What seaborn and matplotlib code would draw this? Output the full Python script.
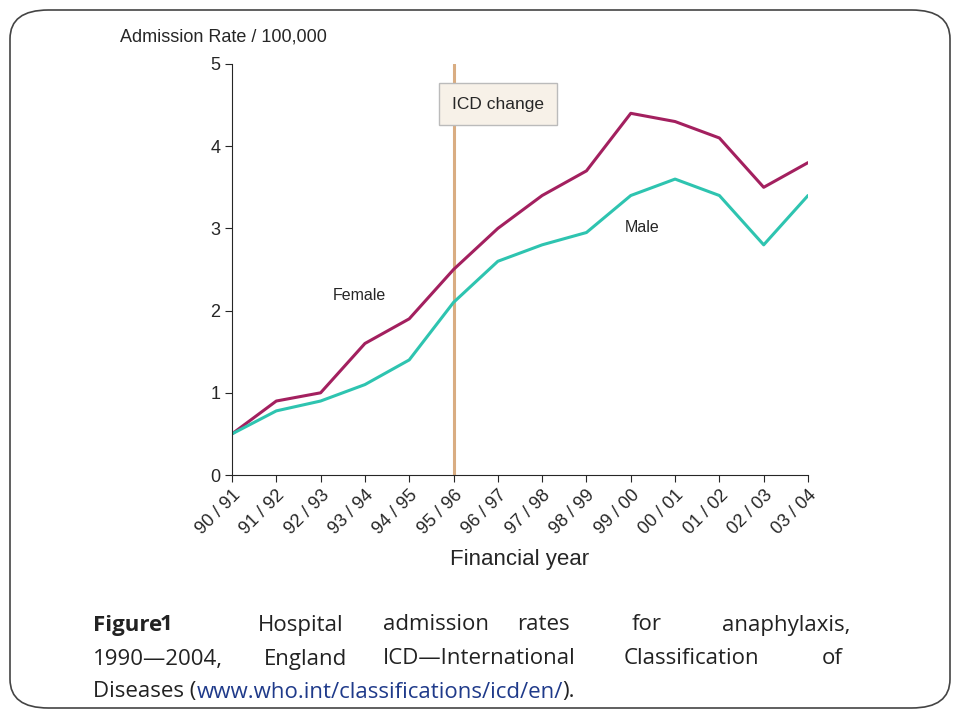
import matplotlib.pyplot as plt
import seaborn as sns
import pandas as pd
from matplotlib.patches import FancyBboxPatch

years = ['90 / 91', '91 / 92', '92 / 93', '93 / 94', '94 / 95', '95 / 96', '96 / 97',
         '97 / 98', '98 / 99', '99 / 00', '00 / 01', '01 / 02', '02 / 03', '03 / 04']
female = [0.5, 0.9, 1.0, 1.6, 1.9, 2.5, 3.0, 3.4, 3.7, 4.4, 4.3, 4.1, 3.5, 3.8]
male = [0.5, 0.78, 0.9, 1.1, 1.4, 2.1, 2.6, 2.8, 2.95, 3.4, 3.6, 3.4, 2.8, 3.4]

df = pd.DataFrame({'pos': list(range(len(years))) * 2,
                   'rate': female + male,
                   'sex': ['Female'] * len(years) + ['Male'] * len(years)})

sns.set_style('white')
plt.rcParams['font.family'] = ['Liberation Sans', 'DejaVu Sans']

fig = plt.figure(figsize=(9.6, 7.2), dpi=100)
fig.patches.append(FancyBboxPatch((10 / 960, 12 / 720), 940 / 960, 698 / 720,
                                  boxstyle='round,pad=0,rounding_size=0.04',
                                  transform=fig.transFigure, fill=False,
                                  edgecolor='#444444', linewidth=1.2))

ax = fig.add_axes([232 / 960, 1 - 475 / 720, 576 / 960, 411 / 720])
sns.lineplot(data=df, x='pos', y='rate', hue='sex', ax=ax, legend=False,
             palette={'Female': '#a3205f', 'Male': '#2ec4b0'}, linewidth=2.2)
ax.axvline(5, color='#d9ad82', linewidth=2.2, zorder=0)
fig.text(452 / 960, 1 - 104 / 720, 'ICD change', fontsize=12.5, va='center',
         bbox=dict(boxstyle='square,pad=0.75', fc='#f7f1e8', ec='#bbbbbb'), zorder=5)
fig.text(333 / 960, 1 - 296 / 720, 'Female', fontsize=11.5, va='center')
fig.text(625 / 960, 1 - 228 / 720, 'Male', fontsize=11.5, va='center')

ax.set_xlim(0, len(years) - 1)
ax.set_ylim(0, 5)
ax.set_yticks(range(6))
ax.set_xticks(range(len(years)))
ax.set_xticklabels(years, rotation=45, ha='right', rotation_mode='anchor', fontsize=13)
ax.tick_params(axis='y', labelsize=13, length=5, left=True, direction='out')
ax.tick_params(axis='x', length=5, bottom=True, direction='out')
for s in ['top', 'right']:
    ax.spines[s].set_visible(False)
ax.set_xlabel('Financial year', fontsize=16, labelpad=8)
ax.set_ylabel('')
fig.text(120 / 960, 1 - 37 / 720, 'Admission Rate / 100,000', fontsize=13, va='center')

cap = dict(fontsize=16, family='Open Sans', va='center', color='#222222')
line1 = [('Figure', 93, True), ('1', 160, True), ('Hospital', 258, False),
         ('admission', 383, False), ('rates', 517, False), ('for', 632, False),
         ('anaphylaxis,', 722, False)]
line2 = [('1990\u20142004,', 93), ('England', 264), ('ICD\u2014International', 383),
         ('Classification', 624), ('of', 822)]
for w, x, b in line1:
    fig.text(x / 960, 1 - 625 / 720, w, fontweight='bold' if b else 'normal', **cap)
for w, x in line2:
    fig.text(x / 960, 1 - 659 / 720, w, **cap)

r = fig.canvas.get_renderer()
x = 93 / 960
for w, c in [('Diseases (', '#222222'), ('www.who.int/classifications/icd/en/', '#1f3a8a'),
             (').', '#222222')]:
    t = fig.text(x, 1 - 692 / 720, w, **{**cap, 'color': c})
    x += t.get_window_extent(r).width / 960

fig.savefig('out.png', dpi=100)
